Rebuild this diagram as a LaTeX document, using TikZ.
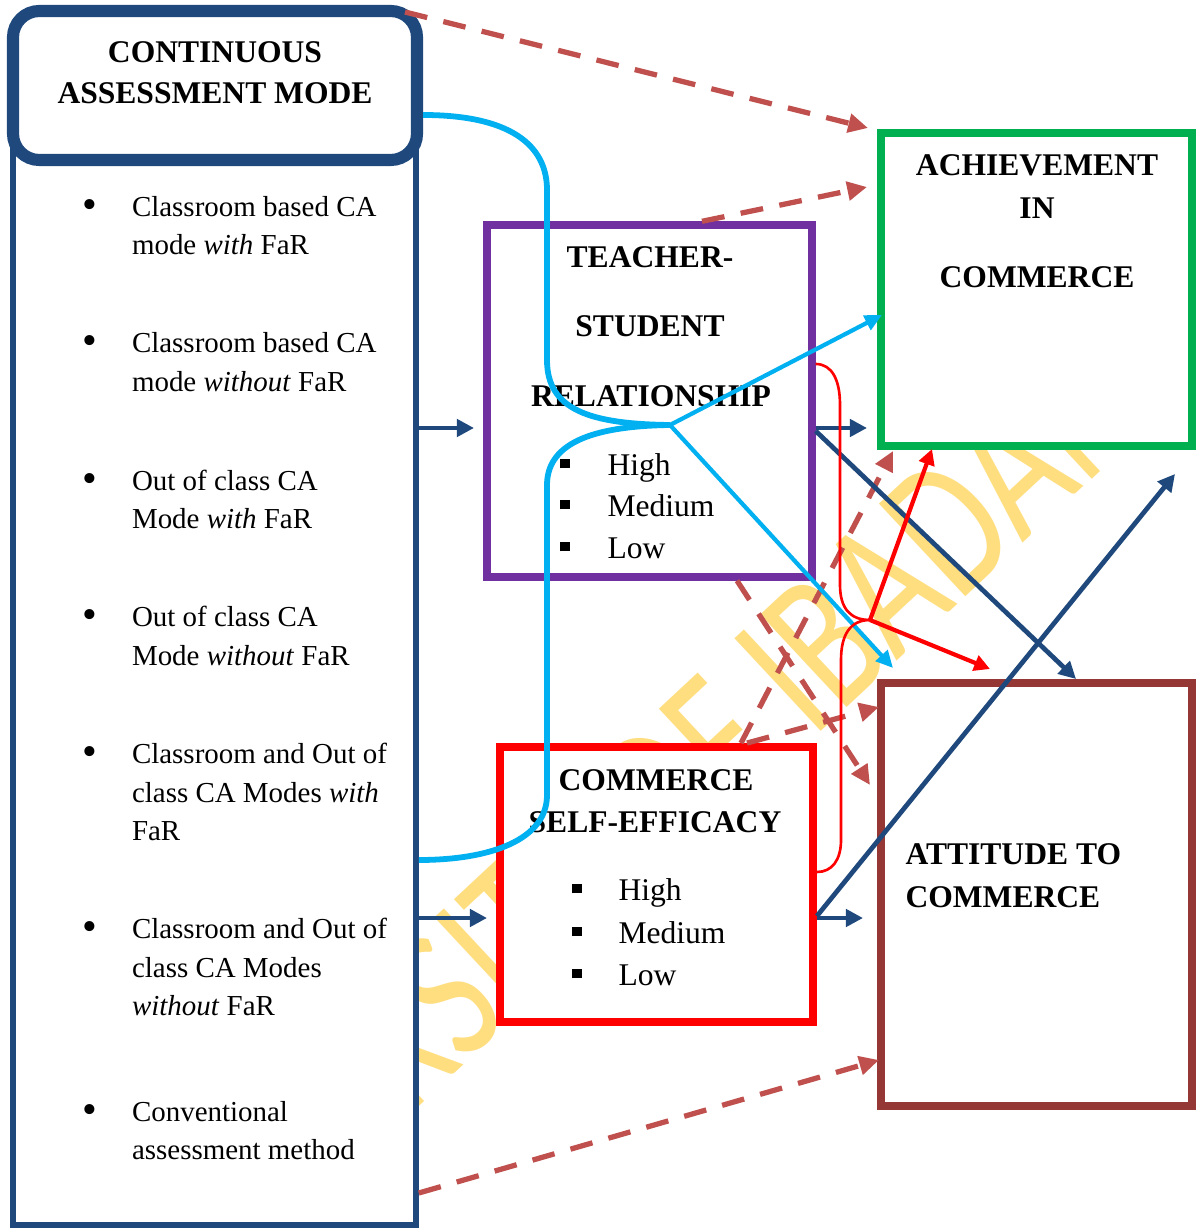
\documentclass[tikz,border=0pt]{standalone}
\usepackage{fontspec}
\setmainfont{Liberation Serif}
\newfontfamily\wmfont{Carlito}
\usetikzlibrary{arrows.meta,fit}

\definecolor{cablue}{RGB}{31,73,125}
\definecolor{tspurple}{RGB}{112,48,160}
\definecolor{achgreen}{RGB}{0,176,80}
\definecolor{attbrown}{RGB}{149,55,53}
\definecolor{dashred}{RGB}{192,80,77}
\definecolor{linkcyan}{RGB}{0,176,240}
\definecolor{wmyellow}{RGB}{255,222,128}

\begin{document}
\begin{tikzpicture}[x=0.38pt, y=-0.38pt,
  box/.style={fill=white, inner sep=0pt},
  head/.style={font=\fontsize{12}{14}\selectfont\bfseries, inner sep=0pt, anchor=base},
  headleft/.style={head, anchor=base west},
  item/.style={font=\fontsize{11}{13}\selectfont, inner sep=0pt, anchor=base west},
  level/.style={font=\fontsize{12}{14}\selectfont, inner sep=0pt, anchor=base west},
  dotmark/.style={font=\fontsize{16}{16}\selectfont, inner sep=0pt, anchor=base},
  sqmark/.style={inner sep=0pt, anchor=base},
  navyarrow/.style={draw=cablue, line width=1.8pt, -{Triangle[length=6.5pt,width=6.5pt]}},
  dasharrow/.style={draw=dashred, line width=2pt, dash pattern=on 8.7pt off 6.3pt, -{Triangle[length=7.5pt,width=7pt]}},
  cyanline/.style={draw=linkcyan, line width=2.2pt},
  cyanarrow/.style={draw=linkcyan, line width=1.6pt, -{Triangle[length=6.5pt,width=6pt]}},
  redline/.style={draw=red, line width=1pt},
  redarrow/.style={draw=red, line width=1.6pt, -{Triangle[length=6pt,width=6pt]}},
  wm/.style={text=wmyellow, font=\wmfont\fontsize{75}{75}\selectfont, inner sep=0pt, rotate=43, xscale=0.74}
]
\useasboundingbox (0,0) rectangle (1196,1228);
\fill[white] (0,0) rectangle (1196,1228);

% background stamp
\node[wm, anchor=base west] (wmB) at (812,740) {IBADAN};
\node[wm, anchor=base east] (wmA) at (788,762) {UNIVERSITY OF};

% boxes
\node[box, draw=cablue, line width=2.1pt, fit={(13,100) (416,1225)}] (modes) {};
\node[box, draw=cablue, line width=4.6pt, rounded corners=10pt, fit={(13,11) (417,160)}] (camode) {};
\node[box, draw=tspurple, line width=2.8pt, fit={(487,225) (812,577)}] (tsr) {};
\node[box, draw=red, line width=3pt, fit={(500,747) (813,1022)}] (cse) {};
\node[box, draw=achgreen, line width=3pt, fit={(881,133) (1192,446)}] (ach) {};
\node[box, draw=attbrown, line width=3pt, fit={(881,683) (1192,1106)}] (att) {};

% box titles
\node[head] (camode1) at (215,63) {CONTINUOUS};
\node[head] (camode2) at (215,104) {ASSESSMENT MODE};
\node[head] (tsr1) at (650,268) {TEACHER-};
\node[head] (tsr2) at (650,337) {STUDENT};
\node[head] (tsr3) at (651,406) {RELATIONSHIP};
\node[head] (ach1) at (1037,176) {ACHIEVEMENT};
\node[head] (ach2) at (1037,219) {IN};
\node[head] (ach3) at (1037,288) {COMMERCE};
\node[head] (cse1) at (656,790) {COMMERCE};
\node[head] (cse2) at (655,832) {SELF-EFFICACY};
\node[headleft] (att1) at (905,864) {ATTITUDE TO};
\node[headleft] (att2) at (905,907) {COMMERCE};

% levels inside the two moderator boxes
\foreach \y/\t [count=\i] in {475/High, 516/Medium, 558/Low} {
  \node[sqmark] (tsq\i) at (565,\y) {\raisebox{2.5pt}{\rule{3.6pt}{3.6pt}}};
  \node[level] (tlv\i) at (607,\y) {\t};
}
\foreach \y/\t [count=\i] in {900/High, 943/Medium, 985/Low} {
  \node[sqmark] (csq\i) at (577,\y) {\raisebox{2.5pt}{\rule{3.6pt}{3.6pt}}};
  \node[level] (clv\i) at (618,\y) {\t};
}

% list of assessment modes
\foreach \y [count=\i] in {217,353,490,626,763,938,1121}
  \node[dotmark] (bu\i) at (90,\y+2) {\textbullet};
\foreach \y/\t [count=\i] in {
  217/{Classroom based CA}, 255/{mode \textit{with} FaR},
  353/{Classroom based CA}, 392/{mode \textit{without} FaR},
  490/{Out of class CA}, 528/{Mode \textit{with} FaR},
  626/{Out of class CA}, 665/{Mode \textit{without} FaR},
  763/{Classroom and Out of}, 802/{class CA Modes \textit{with}}, 840/{FaR},
  938/{Classroom and Out of}, 977/{class CA Modes}, 1015/{\textit{without} FaR},
  1121/{Conventional}, 1159/{assessment method}}
  \node[item] (ln\i) at (131.5,\y) {\t};

% junctions and arrow ends
\coordinate (hub) at (670,425);
\coordinate (rhub) at (870,620);
\coordinate (tsrIn) at (474,428);
\coordinate (cseIn) at (487,918);
\coordinate (achFromTsr) at (867,428);
\coordinate (attTop) at (1076,679);
\coordinate (attFromCse) at (863,918);
\coordinate (achCorner) at (1175,474);
\coordinate (achTopL) at (868,128);
\coordinate (achMidL) at (867,187);
\coordinate (attLowL) at (879,1060);
\coordinate (attUpL) at (870,785);
\coordinate (achBotL) at (893,451);
\coordinate (attTopL) at (879,707);
\coordinate (achSide) at (882,315);
\coordinate (attCorner) at (893,668);
\coordinate (achBotM) at (932,449);
\coordinate (attTopM) at (990,669);

% dashed links
\draw[dasharrow] (405,12) -- (achTopL);
\draw[dasharrow] (tsr.north -| 702,0) -- (achMidL);
\draw[dasharrow] (modes.east |- 0,1193) -- (attLowL);
\draw[dasharrow] (tsr.south -| 737,0) -- (attUpL);
\draw[dasharrow] (cse.north -| 741,0) -- (achBotL);
\draw[dasharrow] (cse.north -| 747,0) -- (attTopL);

% direct links
\draw[navyarrow] (modes.east |- 0,428) -- (tsrIn);
\draw[navyarrow] (modes.east |- 0,918) -- (cseIn);
\draw[navyarrow] (tsr.east |- 0,428) -- (achFromTsr);
\draw[navyarrow] (tsr.east |- 0,431) -- (attTop);
\draw[navyarrow] (cse.east |- 0,918) -- (attFromCse);
\draw[navyarrow] (cse.east |- 0,916) -- (achCorner);

% combined path through the moderators
\draw[cyanline] (camode.east |- 0,115) .. controls (510,115) and (547,145) .. (547,190)
  -- (547,360) .. controls (547,410) and (590,424) .. (hub);
\draw[cyanline] (hub) .. controls (600,426) and (547,440) .. (547,485)
  -- (547,795) .. controls (547,840) and (490,860) .. (modes.east |- 0,860);
\draw[cyanarrow] (hub) -- (achSide);
\draw[cyanarrow] (hub) -- (attCorner);

% interaction of the two moderators
\draw[redline] (tsr.east |- 0,364) .. controls (832,364) and (840,380) .. (840,405)
  -- (840,585) .. controls (840,608) and (850,620) .. (rhub);
\draw[redline] (cse.east |- 0,872) .. controls (832,872) and (841,860) .. (841,840)
  -- (841,660) .. controls (841,635) and (850,620) .. (rhub);
\draw[redarrow] (rhub) -- (achBotM);
\draw[redarrow] (rhub) -- (attTopM);
\end{tikzpicture}
\end{document}
